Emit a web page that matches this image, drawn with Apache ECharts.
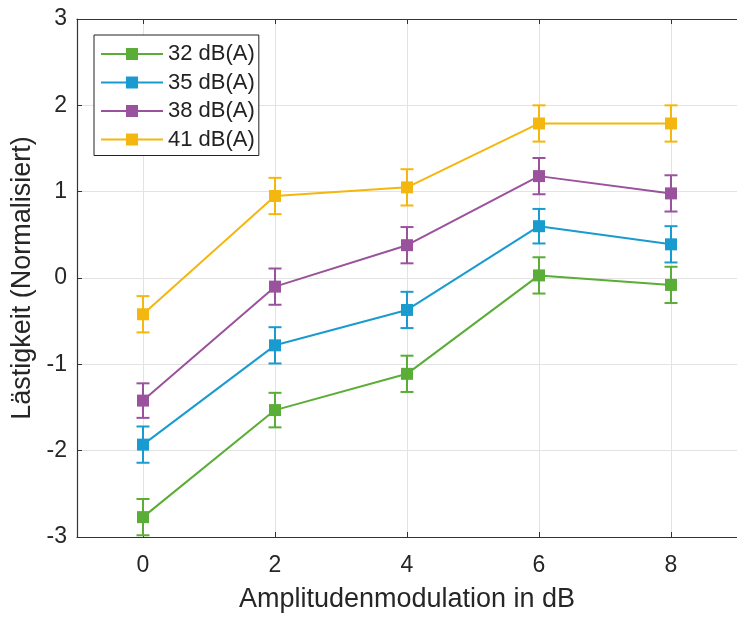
<!DOCTYPE html>
<html>
<head>
<meta charset="utf-8">
<script src="https://cdn.jsdelivr.net/npm/echarts@6/dist/echarts.min.js"></script>
<style>
html,body{margin:0;padding:0;background:#fff;overflow:hidden;}
#chart{width:737px;height:618px;}
</style>
</head>
<body>
<div id="chart"></div>
<script>
var xValues = [0, 2, 4, 6, 8];
var xTicks = [0, 2, 4, 6, 8];
var seriesNames = ['32 dB(A)', '35 dB(A)', '38 dB(A)', '41 dB(A)'];
var v32 = [-2.77, -1.53, -1.11, 0.03, -0.08];
var v35 = [-1.93, -0.78, -0.37, 0.60, 0.39];
var v38 = [-1.42, -0.10, 0.38, 1.18, 0.98];
var v41 = [-0.42, 0.95, 1.05, 1.79, 1.79];
var e32 = [0.21, 0.20, 0.21, 0.21, 0.21];
var e35 = [0.21, 0.21, 0.21, 0.20, 0.21];
var e38 = [0.20, 0.21, 0.21, 0.21, 0.21];
var e41 = [0.21, 0.21, 0.21, 0.21, 0.21];
var colors = ['#5AAD36', '#1A9BCF', '#9A529C', '#F4B70F'];

var values = [v32, v35, v38, v41];
var errors = [e32, e35, e38, e41];

var FONT = 'Liberation Sans, Arial, sans-serif';
var series = [];
values.forEach(function (vals, si) {
  series.push({
    name: seriesNames[si],
    type: 'line',
    data: xValues.map(function (x, i) { return [x, vals[i]]; }),
    symbol: 'rect',
    symbolSize: 12,
    lineStyle: { width: 2, color: colors[si] },
    itemStyle: { color: colors[si] },
    z: 3 + si,
    animation: false
  });
  series.push({
    name: seriesNames[si],
    type: 'custom',
    data: xValues.map(function (x, i) { return [x, vals[i] - errors[si][i], vals[i] + errors[si][i]]; }),
    renderItem: function (params, api) {
      var x = api.value(0);
      var lo = api.coord([x, api.value(1)]);
      var hi = api.coord([x, api.value(2)]);
      var hw = 6.5;
      var st = { stroke: colors[si], lineWidth: 2, fill: null };
      return {
        type: 'group',
        children: [
          { type: 'line', shape: { x1: lo[0], y1: lo[1], x2: hi[0], y2: hi[1] }, style: st },
          { type: 'line', shape: { x1: lo[0] - hw, y1: lo[1], x2: lo[0] + hw, y2: lo[1] }, style: st },
          { type: 'line', shape: { x1: hi[0] - hw, y1: hi[1], x2: hi[0] + hw, y2: hi[1] }, style: st }
        ]
      };
    },
    encode: { x: 0, y: [1, 2] },
    z: 3 + si,
    animation: false,
    silent: true
  });
});

var chart = echarts.init(document.getElementById('chart'), null, { renderer: 'canvas' });
chart.setOption({
  backgroundColor: '#ffffff',
  animation: false,
  grid: { left: 77, top: 19, bottom: 76, width: 671, containLabel: false },
  legend: {
    data: seriesNames,
    orient: 'vertical',
    left: 94,
    top: 35,
    itemWidth: 62,
    itemHeight: 15,
    itemGap: 6.5,
    padding: [8, 4, 5, 6],
    borderColor: '#222',
    borderWidth: 1,
    backgroundColor: '#fff',
    textStyle: { fontFamily: FONT, fontSize: 22, color: '#222', lineHeight: 22 }
  },
  xAxis: [{
    type: 'value',
    min: -1,
    max: 9,
    name: 'Amplitudenmodulation in dB',
    nameLocation: 'middle',
    nameGap: 49,
    nameTextStyle: { fontFamily: FONT, fontSize: 27, color: '#262626' },
    axisLine: { show: true, onZero: false, lineStyle: { color: '#333', width: 1.2 } },
    axisTick: { show: true, inside: true, length: 5, customValues: xTicks, lineStyle: { color: '#333' } },
    axisLabel: { customValues: xTicks, fontFamily: FONT, fontSize: 23, color: '#262626', margin: 17 },
    splitLine: { show: true, lineStyle: { color: '#e3e3e3', width: 1 } }
  }, {
    type: 'value',
    position: 'top',
    min: -1,
    max: 9,
    axisLine: { show: true, onZero: false, lineStyle: { color: '#333', width: 1.2 } },
    axisTick: { show: true, inside: true, length: 5, customValues: xTicks, lineStyle: { color: '#333' } },
    axisLabel: { show: false },
    splitLine: { show: false }
  }],
  yAxis: {
    type: 'value',
    min: -3,
    max: 3,
    interval: 1,
    name: 'Lästigkeit (Normalisiert)',
    nameLocation: 'middle',
    nameGap: 40,
    nameTextStyle: { fontFamily: FONT, fontSize: 27, color: '#262626' },
    axisLine: { show: true, onZero: false, lineStyle: { color: '#333', width: 1.2 } },
    axisTick: { show: true, inside: true, length: 5, lineStyle: { color: '#333' } },
    axisLabel: { fontFamily: FONT, fontSize: 23, color: '#262626', margin: 10 },
    splitLine: { show: true, lineStyle: { color: '#e3e3e3', width: 1 } }
  },
  series: series
});
</script>
</body>
</html>
